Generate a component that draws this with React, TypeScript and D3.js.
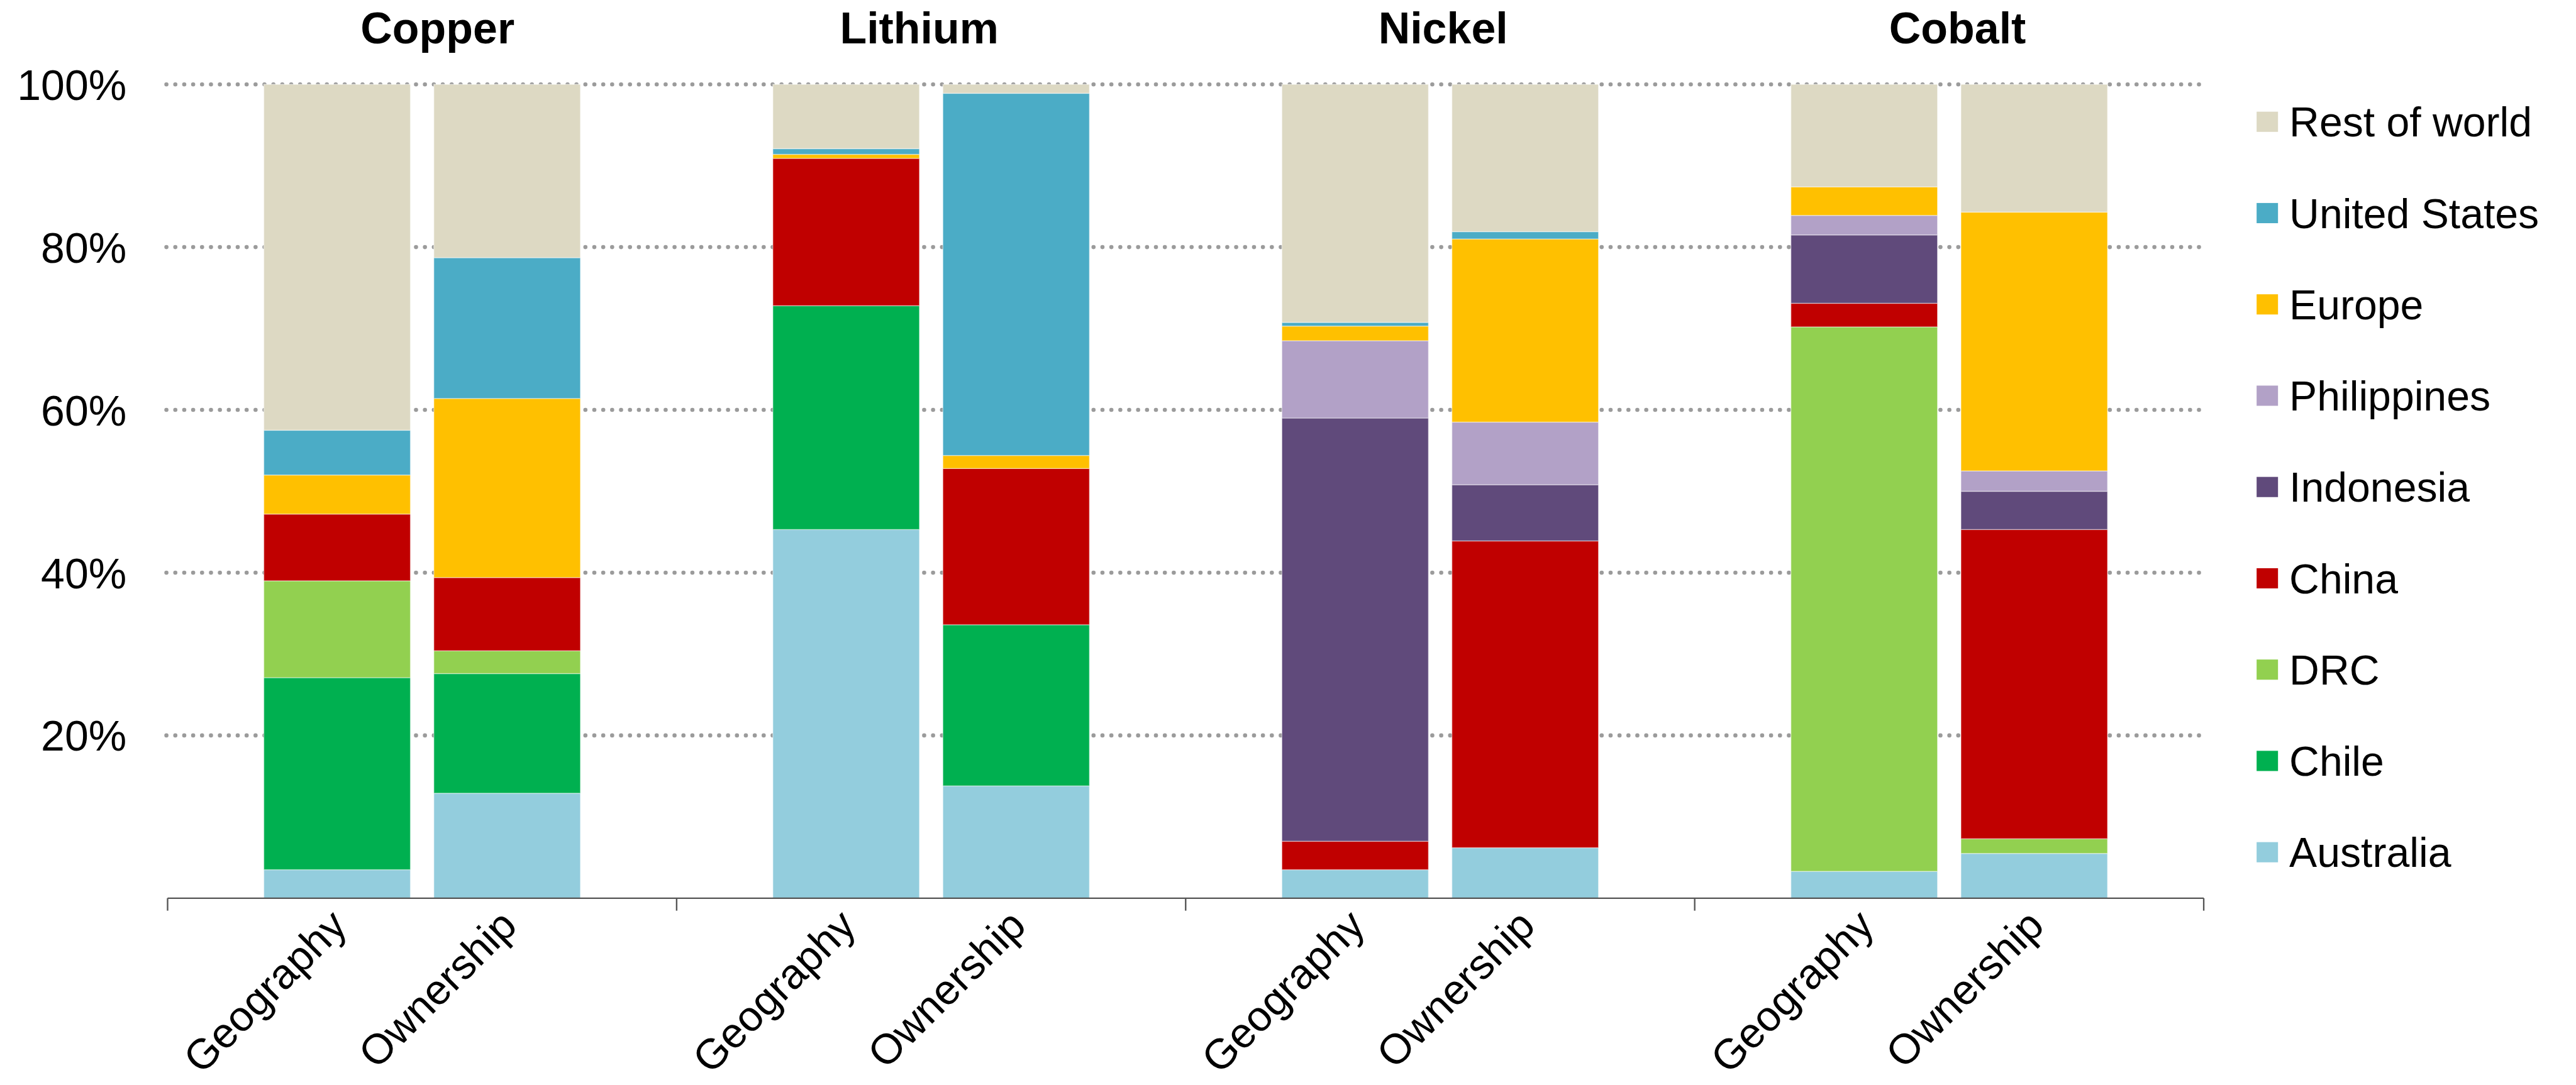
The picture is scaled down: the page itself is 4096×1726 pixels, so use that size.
import * as d3 from 'd3';

const METALS = ['Copper', 'Lithium', 'Nickel', 'Cobalt'];
const BASES = ['Geography', 'Ownership'];

// share (%) per bar, in order: Cu geo, Cu own, Li geo, Li own, Ni geo, Ni own, Co geo, Co own
const AUSTRALIA = [3.5, 12.9, 45.3, 13.8, 3.5, 6.2, 3.3, 5.5];
const CHILE = [23.6, 14.7, 27.5, 19.8, 0, 0, 0, 0];
const DRC = [11.9, 2.8, 0, 0, 0, 0, 66.9, 1.8];
const CHINA = [8.2, 9.0, 18.1, 19.2, 3.5, 37.7, 2.9, 38.0];
const INDONESIA = [0, 0, 0, 0, 52.0, 6.9, 8.4, 4.7];
const PHILIPPINES = [0, 0, 0, 0, 9.5, 7.7, 2.4, 2.5];
const EUROPE = [4.8, 22.0, 0.5, 1.6, 1.8, 22.5, 3.5, 31.8];
const UNITED_STATES = [5.5, 17.3, 0.7, 44.5, 0.45, 0.9, 0, 0];
const REST_OF_WORLD = [42.5, 21.3, 7.9, 1.1, 29.25, 18.1, 12.6, 15.7];

const SERIES_NAMES = [
  'Australia', 'Chile', 'DRC', 'China', 'Indonesia',
  'Philippines', 'Europe', 'United States', 'Rest of world',
];
const SERIES_VALUES = [
  AUSTRALIA, CHILE, DRC, CHINA, INDONESIA,
  PHILIPPINES, EUROPE, UNITED_STATES, REST_OF_WORLD,
];
const Y_TICKS = [20, 40, 60, 80, 100];

const COLORS: Record<string, string> = {
  Australia: '#93CDDD',
  Chile: '#00B050',
  DRC: '#92D050',
  China: '#C00000',
  Indonesia: '#604A7B',
  Philippines: '#B2A1C7',
  Europe: '#FFC000',
  'United States': '#4BACC6',
  'Rest of world': '#DDD9C3',
};

// layout is in the reference's pixels, scaled down at the end
const SCALE = 0.945;
const PLOT = { left: 282, right: 3708, top: 142, bottom: 1512 };
const TITLE_DX = [26, -20, 5, 14];
const FONT = '"Liberation Sans", Arial, Helvetica, sans-serif';

export default function App() {
  const y = d3.scaleLinear().domain([0, 100]).range([PLOT.bottom, PLOT.top]);
  const x0 = d3.scaleBand().domain(METALS).range([PLOT.left, PLOT.right]).padding(0);
  const x1 = d3
    .scaleBand()
    .domain(BASES)
    .range([0, x0.bandwidth()])
    .paddingInner(0.138)
    .paddingOuter(0.566);

  const rows = METALS.flatMap((metal, i) =>
    BASES.map((basis, j) => {
      const row: Record<string, any> = { metal, basis };
      SERIES_NAMES.forEach((name, k) => {
        row[name] = SERIES_VALUES[k][i * 2 + j];
      });
      return row;
    })
  );

  const stacked = d3.stack<Record<string, any>>().keys(SERIES_NAMES)(rows);

  const boundaries = [...METALS.map((m) => x0(m)!), PLOT.right];
  const legendItems = [...SERIES_NAMES].reverse();

  return (
    <svg
      width={4096}
      height={1726}
      style={{ position: 'absolute', left: 0, top: 0, background: '#fff' }}
      fontFamily={FONT}
    >
      <g transform={`scale(${SCALE})`}>
        {/* gridlines */}
        {Y_TICKS.map((t) => (
          <line
            key={`g${t}`}
            x1={PLOT.left - 2}
            x2={PLOT.right - 4}
            y1={y(t)}
            y2={y(t)}
            stroke="#9b9b9b"
            strokeWidth={7}
            strokeDasharray="0 15"
            strokeLinecap="round"
          />
        ))}

        {/* stacked bars */}
        {stacked.map((layer) => (
          <g key={layer.key} fill={COLORS[layer.key]}>
            {layer.map((d, i) => {
              const h = y(d[0]) - y(d[1]);
              if (h <= 0) return null;
              return (
                <rect
                  key={i}
                  x={x0(d.data.metal)! + x1(d.data.basis)!}
                  y={y(d[1])}
                  width={x1.bandwidth()}
                  height={h}
                  stroke="#ffffff"
                  strokeOpacity={0.45}
                  strokeWidth={1.5}
                />
              );
            })}
          </g>
        ))}

        {/* x axis */}
        <line x1={PLOT.left} x2={PLOT.right} y1={PLOT.bottom} y2={PLOT.bottom} stroke="#555" strokeWidth={2.5} />
        {boundaries.map((bx, i) => (
          <line key={`t${i}`} x1={bx} x2={bx} y1={PLOT.bottom} y2={PLOT.bottom + 21} stroke="#555" strokeWidth={2.5} />
        ))}

        {/* y tick labels */}
        {Y_TICKS.map((t) => (
          <text key={`l${t}`} x={213} y={y(t) + 26} textAnchor="end" fontSize={72} fill="#000">
            {t}%
          </text>
        ))}

        {/* metal titles */}
        {METALS.map((m, i) => (
          <text
            key={m}
            x={x0(m)! + x0.bandwidth() / 2 + TITLE_DX[i]}
            y={73}
            textAnchor="middle"
            fontSize={74}
            fontWeight="bold"
            fill="#000"
          >
            {m}
          </text>
        ))}

        {/* rotated bar labels */}
        {rows.map((r, i) => {
          const cx = x0(r.metal)! + x1(r.basis)! + x1.bandwidth() / 2;
          return (
            <text
              key={`x${i}`}
              transform={`translate(${cx + 20},${PLOT.bottom + 50}) rotate(-45)`}
              textAnchor="end"
              fontSize={71}
              fill="#000"
            >
              {r.basis}
            </text>
          );
        })}

        {/* legend */}
        {legendItems.map((name, i) => {
          const cy = 205 + i * 153.7;
          return (
            <g key={name}>
              <rect x={3797} y={cy - 17} width={36} height={34} fill={COLORS[name]} />
              <text x={3852} y={cy + 25} fontSize={70} fill="#000">
                {name}
              </text>
            </g>
          );
        })}
      </g>
    </svg>
  );
}
